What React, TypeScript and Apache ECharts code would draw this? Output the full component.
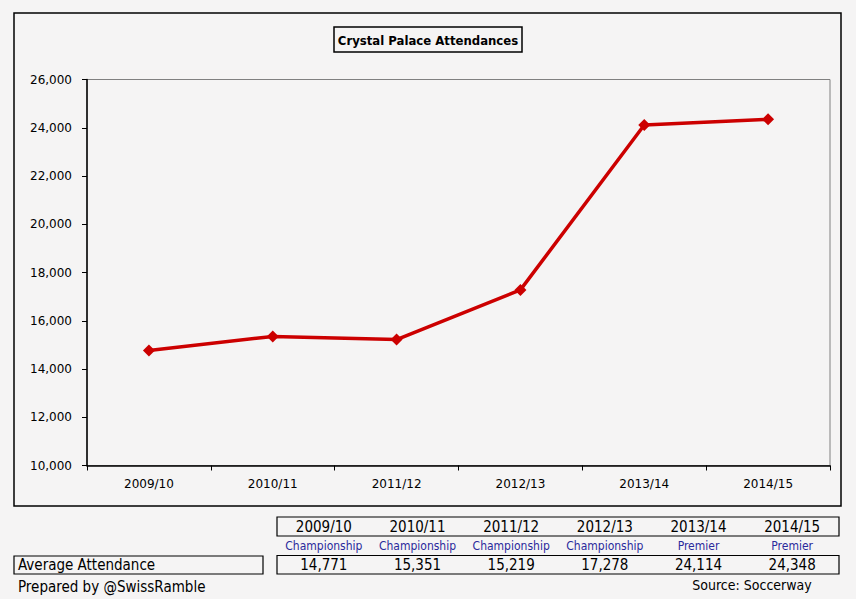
import React, { useEffect, useRef } from "react";
import * as echarts from "echarts";

const seasons = ["2009/10", "2010/11", "2011/12", "2012/13", "2013/14", "2014/15"];
const leagues = ["Championship", "Championship", "Championship", "Championship", "Premier", "Premier"];
const attendance = [14771, 15351, 15219, 17278, 24114, 24348];
const yTicks = { min: 10000, max: 26000, interval: 2000 };
const titleText = "Crystal Palace Attendances";
const rowLabel = "Average Attendance";
const preparedBy = "Prepared by @SwissRamble";
const sourceText = "Source: Soccerway";

const COND = '"DejaVu Sans Condensed", "DejaVu Sans", sans-serif';
const VERD = '"DejaVu Sans", Verdana, sans-serif';

const fmt = (v: number) => v.toLocaleString("en-US");

export default function App() {
  const ref = useRef<HTMLDivElement>(null);
  useEffect(() => {
    if (!ref.current) return;
    const chart = echarts.init(ref.current, undefined, { renderer: "svg" });

    const tableLeft = 277;
    const tableRight = 839;
    const colW = (tableRight - tableLeft) / seasons.length;

    const tableTexts: any[] = [];
    seasons.forEach((s, i) => {
      const cx = tableLeft + colW * (i + 0.5);
      tableTexts.push({
        type: "text",
        x: cx,
        y: 527,
        style: { text: s, fill: "#000", fontFamily: COND, fontSize: 15, align: "center", verticalAlign: "middle" },
      });
      tableTexts.push({
        type: "text",
        x: cx,
        y: 546,
        style: { text: leagues[i], fill: "#2a2a9c", fontFamily: COND, fontSize: 12, align: "center", verticalAlign: "middle" },
      });
      tableTexts.push({
        type: "text",
        x: cx,
        y: 565,
        style: { text: fmt(attendance[i]), fill: "#000", fontFamily: COND, fontSize: 15, align: "center", verticalAlign: "middle" },
      });
    });

    chart.setOption({
      animation: false,
      backgroundColor: "#f5f4f4",
      grid: {
        left: 87,
        right: 26,
        top: 79.5,
        bottom: 133.5,
        show: true,
        borderColor: "#808080",
        borderWidth: 1,
        backgroundColor: "transparent",
      },
      xAxis: {
        type: "category",
        data: seasons,
        boundaryGap: true,
        axisLine: { lineStyle: { color: "#000", width: 1.5 } },
        axisTick: { show: true, length: 5, lineStyle: { color: "#000", width: 1 } },
        axisLabel: { color: "#000", fontFamily: VERD, fontSize: 12, margin: 12 },
        splitLine: { show: false },
      },
      yAxis: {
        type: "value",
        min: yTicks.min,
        max: yTicks.max,
        interval: yTicks.interval,
        axisLine: { show: true, lineStyle: { color: "#000", width: 1.5 } },
        axisTick: { show: true, inside: false, length: 5, lineStyle: { color: "#000", width: 1 } },
        axisLabel: { color: "#000", fontFamily: VERD, fontSize: 12, margin: 15, formatter: (v: number) => fmt(v) },
        splitLine: { show: false },
      },
      series: [
        {
          type: "line",
          data: attendance,
          symbol: "diamond",
          symbolSize: [12, 12],
          lineStyle: { color: "#cc0000", width: 3.5 },
          itemStyle: { color: "#cc0000" },
          z: 5,
        },
      ],
      graphic: [
        {
          type: "rect",
          shape: { x: 14, y: 13, width: 827, height: 493 },
          style: { fill: "none", stroke: "#000", lineWidth: 1.5 },
          z: 0,
          silent: true,
        },
        {
          type: "rect",
          shape: { x: 334, y: 27, width: 188, height: 25 },
          style: { fill: "none", stroke: "#000", lineWidth: 1.5 },
        },
        {
          type: "text",
          x: 428,
          y: 40,
          style: { text: titleText, fill: "#000", fontFamily: COND, fontWeight: "bold", fontSize: 13, align: "center", verticalAlign: "middle" },
        },
        {
          type: "rect",
          shape: { x: tableLeft, y: 517, width: tableRight - tableLeft, height: 19 },
          style: { fill: "none", stroke: "#000", lineWidth: 1.2 },
        },
        {
          type: "rect",
          shape: { x: tableLeft, y: 555.5, width: tableRight - tableLeft, height: 18.5 },
          style: { fill: "none", stroke: "#000", lineWidth: 1.2 },
        },
        {
          type: "rect",
          shape: { x: 14, y: 556, width: 249, height: 18 },
          style: { fill: "none", stroke: "#000", lineWidth: 1.2 },
        },
        {
          type: "text",
          x: 18,
          y: 565,
          style: { text: rowLabel, fill: "#000", fontFamily: COND, fontSize: 15, align: "left", verticalAlign: "middle" },
        },
        {
          type: "text",
          x: 18,
          y: 587,
          style: { text: preparedBy, fill: "#000", fontFamily: COND, fontSize: 15, align: "left", verticalAlign: "middle" },
        },
        {
          type: "text",
          x: 752,
          y: 585,
          style: { text: sourceText, fill: "#000", fontFamily: COND, fontSize: 14, align: "center", verticalAlign: "middle" },
        },
        ...tableTexts,
      ],
    });
    return () => chart.dispose();
  }, []);
  return (
    <div
      ref={ref}
      style={{ position: "fixed", left: 0, top: 0, width: 856, height: 599 }}
    />
  );
}
